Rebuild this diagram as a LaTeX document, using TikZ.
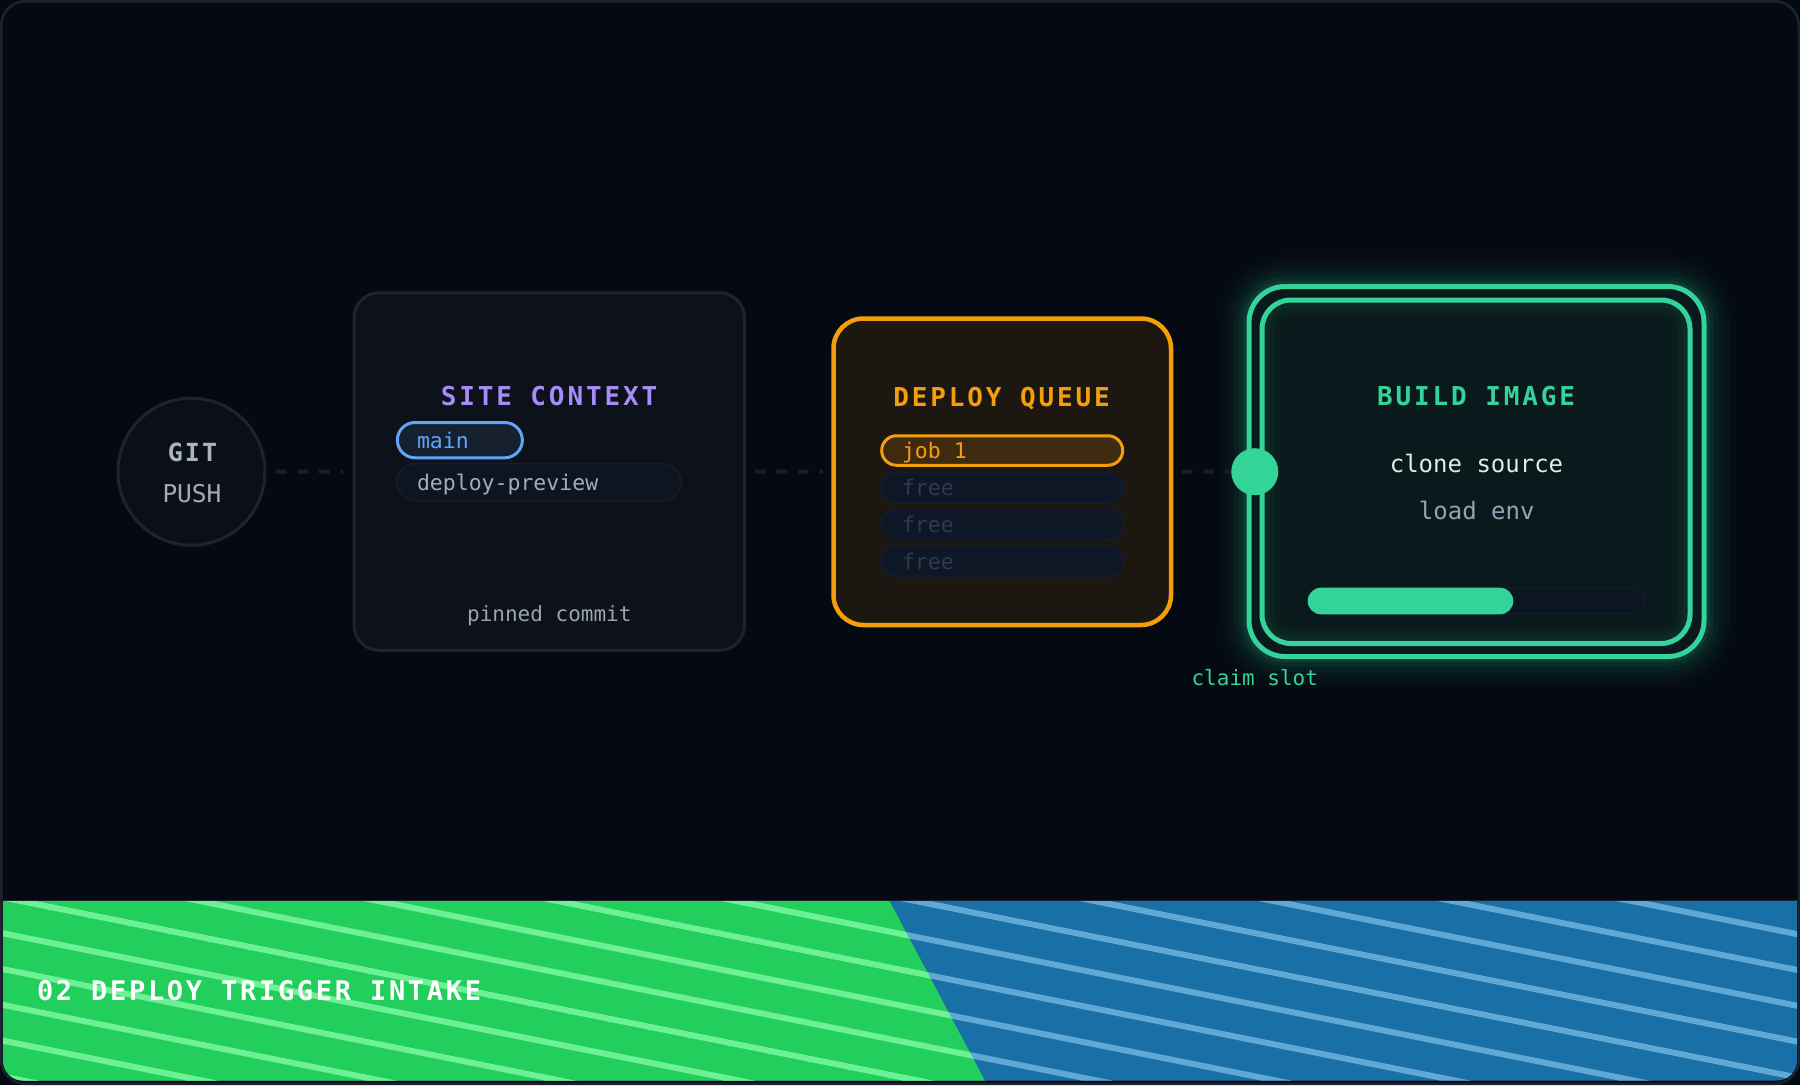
\documentclass[tikz,border=0pt]{standalone}
\usepackage{fontspec}
\setmainfont{DejaVu Sans Mono}
\newfontfamily\tfont[LetterSpace=11]{DejaVu Sans Mono}
\newfontfamily\gfont[LetterSpace=8]{DejaVu Sans Mono}
\newfontfamily\bandfont[LetterSpace=10]{DejaVu Sans Mono}
\usetikzlibrary{shapes.misc}
\definecolor{bg}{HTML}{050A12}
\definecolor{framec}{HTML}{1C2230}
\definecolor{cardfill}{HTML}{0D1119}
\definecolor{cardline}{HTML}{1C252F}
\definecolor{gitfill}{HTML}{0B1018}
\definecolor{dashc}{HTML}{15202D}
\definecolor{purp}{HTML}{A78BFA}
\definecolor{blu}{HTML}{60A5FA}
\definecolor{bluefill}{HTML}{16202F}
\definecolor{greyt}{HTML}{A3ACB9}
\definecolor{gitc}{HTML}{A9B4C2}
\definecolor{pinc}{HTML}{9AA4B2}
\definecolor{pillfill}{HTML}{0E1520}
\definecolor{pillline}{HTML}{131C2A}
\definecolor{orng}{HTML}{F59E0B}
\definecolor{qfill}{HTML}{1C1710}
\definecolor{jobfill}{HTML}{3E2B0F}
\definecolor{freefill}{HTML}{0E1726}
\definecolor{freeline}{HTML}{111D2F}
\definecolor{freetxt}{HTML}{2E3A4B}
\definecolor{grn}{HTML}{34D399}
\definecolor{bfill}{HTML}{0A1A1C}
\definecolor{wtxt}{HTML}{E5E7EB}
\definecolor{slate}{HTML}{94A3B8}
\definecolor{trackfill}{HTML}{0D1422}
\definecolor{bandg}{HTML}{22CE5C}
\definecolor{bandgs}{HTML}{6EF094}
\definecolor{bandb}{HTML}{1870A6}
\definecolor{bandbs}{HTML}{62A8D4}
\begin{document}
\begin{tikzpicture}[x=1pt,y=-1pt,
  every node/.style={inner sep=0pt, outer sep=0pt},
  card/.style={draw=cardline, fill=cardfill, line width=3pt, rounded corners=25pt},
  conn/.style={draw=dashc, line width=4pt, dash pattern=on 10.5pt off 11pt},
  ttl/.style={font=\tfont\bfseries\fontsize{26}{30}\selectfont, anchor=base},
  body/.style={font=\fontsize{21.5}{26}\selectfont, anchor=base west},
  pillbox/.style={rounded rectangle, draw=pillline, fill=pillfill, line width=2pt},
  freepill/.style={rounded rectangle, draw=freeline, fill=freefill, line width=2pt, minimum width=242pt, minimum height=30.3pt},
  freelbl/.style={body, text=freetxt},
  ring/.style={draw=grn, line width=5pt},
  stripe/.style={line width=6pt},
]
\useasboundingbox (0,0) rectangle (1800,1085);
% background and frame
\fill[bg] (0,0) rectangle (1800,1085);
\draw[framec, line width=2.5pt, rounded corners=24pt] (1.25,1.25) rectangle (1798.75,1083.75);

% bottom band
\begin{scope}
  \clip (3,901) -- (1797,901) [rounded corners=20pt] -- (1797,1080.5) -- (3,1080.5) [sharp corners] -- cycle;
  \fill[bandb] (0,895) rectangle (1800,1085);
  \foreach \k in {-11,...,5} \draw[stripe, bandbs] (0,932.7+35.8*\k) -- (1800,1292.7+35.8*\k);
  \begin{scope}
    \clip (0,895) -- (886.3,895) -- (987.2,1085) -- (0,1085) -- cycle;
    \fill[bandg] (0,895) rectangle (1800,1085);
    \foreach \k in {-11,...,5} \draw[stripe, bandgs] (0,932.7+35.8*\k) -- (1800,1292.7+35.8*\k);
  \end{scope}
\end{scope}
\draw[framec, line width=1.5pt] (2.5,900.3) -- (1797.5,900.3);
\node[font=\bandfont\bfseries\fontsize{27}{32}\selectfont, text=white, anchor=base west] (bandlbl) at (37,1000) {02 DEPLOY TRIGGER INTAKE};

% git push
\node[circle, draw=cardline, fill=gitfill, line width=3pt, minimum size=147pt] (git) at (191.5,471.7) {};
\node[font=\gfont\bfseries\fontsize{25}{30}\selectfont, text=gitc, anchor=base] (gitt) at (192.5,461.7) {GIT};
\node[font=\fontsize{24.5}{30}\selectfont, text=greyt, anchor=base] (gitp) at (192,502.7) {PUSH};

% site context
\node[card, minimum width=390.5pt, minimum height=357.5pt] (ctx) at (549.25,471.5) {};
\node[ttl, text=purp] (ctxt) at (549,405.7) {SITE CONTEXT};
\node[rounded rectangle, draw=blu, fill=bluefill, line width=3pt, minimum width=125pt, minimum height=35.3pt] (main) at (459.85,440.15) {};
\node[body, text=blu] (mainl) at (417,448.3) {main};
\node[pillbox, minimum width=284pt, minimum height=37pt] (prev) at (539,482.2) {};
\node[body, text=greyt] (prevl) at (417,490.7) {deploy-preview};
\node[font=\fontsize{21}{26}\selectfont, text=pinc, anchor=base] (pin) at (549.3,621.7) {pinned commit};

% deploy queue
\node[card, draw=orng, fill=qfill, line width=4.5pt, rounded corners=30pt, minimum width=337.5pt, minimum height=306.5pt] (queue) at (1002.25,471.75) {};
\node[ttl, text=orng] (queuet) at (1001.5,406) {DEPLOY QUEUE};
\node[rounded rectangle, draw=orng, fill=jobfill, line width=3pt, minimum width=241pt, minimum height=29.5pt] (job) at (1002.2,450.5) {};
\node[body, text=orng] (jobl) at (902,458.3) {job 1};
\node[freepill] (free1) at (1002.2,487.8) {};
\node[freelbl] (free1l) at (902,495.3) {free};
\node[freepill] (free2) at (1002.2,524.5) {};
\node[freelbl] (free2l) at (902,532) {free};
\node[freepill] (free3) at (1002.2,561.5) {};
\node[freelbl] (free3l) at (902,569) {free};

% build image glow
\foreach \w/\o in {64/0.02,52/0.027,40/0.036,30/0.045,20/0.065,12/0.09}
  \draw[grn, line width=\w pt, opacity=\o, rounded corners=36pt] (1249,286.5) rectangle (1704,656.5);
\node[ring, fill=bfill, rounded corners=36pt, minimum width=455pt, minimum height=370pt] (buildo) at (1476.5,471.5) {};
\begin{scope}
  \clip[rounded corners=29pt] (1262,300) rectangle (1690,643.5);
  \foreach \w/\o in {36/0.025,24/0.035,14/0.05}
    \draw[grn, line width=\w pt, opacity=\o, rounded corners=29pt] (1262,300) rectangle (1690,643.5);
\end{scope}
\node[ring, rounded corners=29pt, minimum width=428pt, minimum height=343.5pt] (build) at (1476,471.75) {};
\node[ttl, text=grn] (buildt) at (1476,405) {BUILD IMAGE};
\node[font=\fontsize{24}{28}\selectfont, text=wtxt, anchor=base] (clone) at (1476.5,472.7) {clone source};
\node[font=\fontsize{24}{28}\selectfont, text=slate, anchor=base] (env) at (1476.7,519.3) {load env};
\node[rounded rectangle, draw=pillline, fill=trackfill, line width=1.5pt, minimum width=336.5pt, minimum height=25.5pt] (track) at (1476.7,601) {};
\node[rounded rectangle, fill=grn, minimum width=205.6pt, minimum height=26.6pt] (bar) at (1410.5,601) {};

% connectors
\draw[conn, shorten <=11pt, shorten >=11pt] (git.east) -- (ctx.west);
\draw[conn, shorten <=10.5pt, shorten >=10.5pt] (ctx.east) -- (queue.west);
\node[circle, minimum size=47pt] (dot) at (1254.8,471.7) {};
\draw[conn, shorten <=11pt] (queue.east) -- (dot.center);
\node[circle, fill=grn, minimum size=47pt] at (dot.center) {};
\node[font=\fontsize{21}{26}\selectfont, text=grn, anchor=base] (claim) at (1254.8,685) {claim slot};
\end{tikzpicture}
\end{document}
